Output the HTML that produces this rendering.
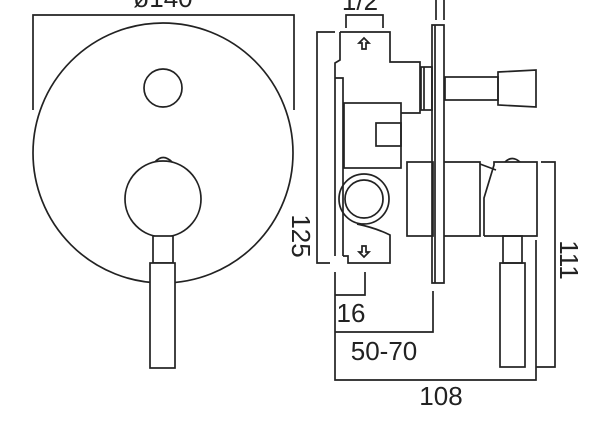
<!DOCTYPE html>
<html><head><style>
html,body{margin:0;padding:0;background:#fff}
svg{display:block}
text{font-family:"Liberation Sans",sans-serif;fill:#222;font-size:26px}
</style></head><body>
<svg width="600" height="441" viewBox="0 0 600 441" xmlns="http://www.w3.org/2000/svg" fill="none" stroke="#222" stroke-width="1.7">
<!-- Left front view -->
<path d="M33 110 V15 H294 V110"/>
<text x="163" y="7" text-anchor="middle" stroke="none">ø140</text>
<circle cx="163" cy="153" r="130"/>
<circle cx="163" cy="88" r="19"/>
<circle cx="163" cy="199" r="38" fill="#fff"/>
<path d="M155 162 Q163 153 172 162"/>
<rect x="153" y="236" width="20" height="27" fill="#fff"/>
<rect x="150" y="263" width="25" height="105" fill="#fff"/>
<!-- 125 label -->
<text transform="translate(292,236) rotate(90)" text-anchor="middle" stroke="none">125</text>

<!-- Right side view -->
<text x="360" y="10" text-anchor="middle" stroke="none">1/2</text>
<path d="M346 28 V15 H383 V28"/>
<path d="M436 0 V20 M444 0 V20"/>
<path d="M335 32 H317 V263 H330"/>
<!-- body -->
<path d="M340 32 H390 V62 H420 V113 H401"/>
<path d="M340 32 V60 L335 63 V256 M343 256 V78 H335"/>
<path d="M343 256 H348 V263 H390 V235 Q376 228 357 224"/>
<rect x="344" y="103" width="57" height="65"/>
<rect x="376" y="123" width="25" height="23"/>
<circle cx="364" cy="199" r="25"/>
<circle cx="364" cy="199" r="19"/>
<rect x="407" y="162" width="26" height="74"/>
<!-- arrows -->
<path d="M362 49 V43 H359 L364 38 L369 43 H366 V49 Z"/>
<path d="M362 246 V252 H359 L364 257 L369 252 H366 V246 Z"/>
<!-- plate -->
<path d="M432 25 H444 V283 H432 Z M435 25 V283"/>
<!-- diverter -->
<rect x="421" y="67" width="11" height="43"/>
<path d="M424 67 V110"/>
<rect x="445" y="77" width="53" height="23"/>
<path d="M498 72 L536 70 V107 L498 105 Z"/>
<!-- lever body -->
<path d="M444 162 H480 V236 H444"/>
<path d="M480 164 L496 170 M484 236 V198 L494 165 V162 H537 V236 H484"/>
<path d="M505 162 Q512 155 520 162"/>
<rect x="503" y="236" width="19" height="27"/>
<rect x="500" y="263" width="25" height="104"/>
<!-- dims -->
<path d="M541 162 H555 V367 H536 M536 240 V380 H335 V272"/>
<text transform="translate(560,260) rotate(90)" text-anchor="middle" stroke="none">111</text>
<path d="M365 272 V295 H335"/>
<text x="351" y="322" text-anchor="middle" stroke="none">16</text>
<path d="M433 291 V332 H335"/>
<text x="384" y="360" text-anchor="middle" stroke="none">50-70</text>
<text x="441" y="405" text-anchor="middle" stroke="none">108</text>
</svg>
</body></html>
